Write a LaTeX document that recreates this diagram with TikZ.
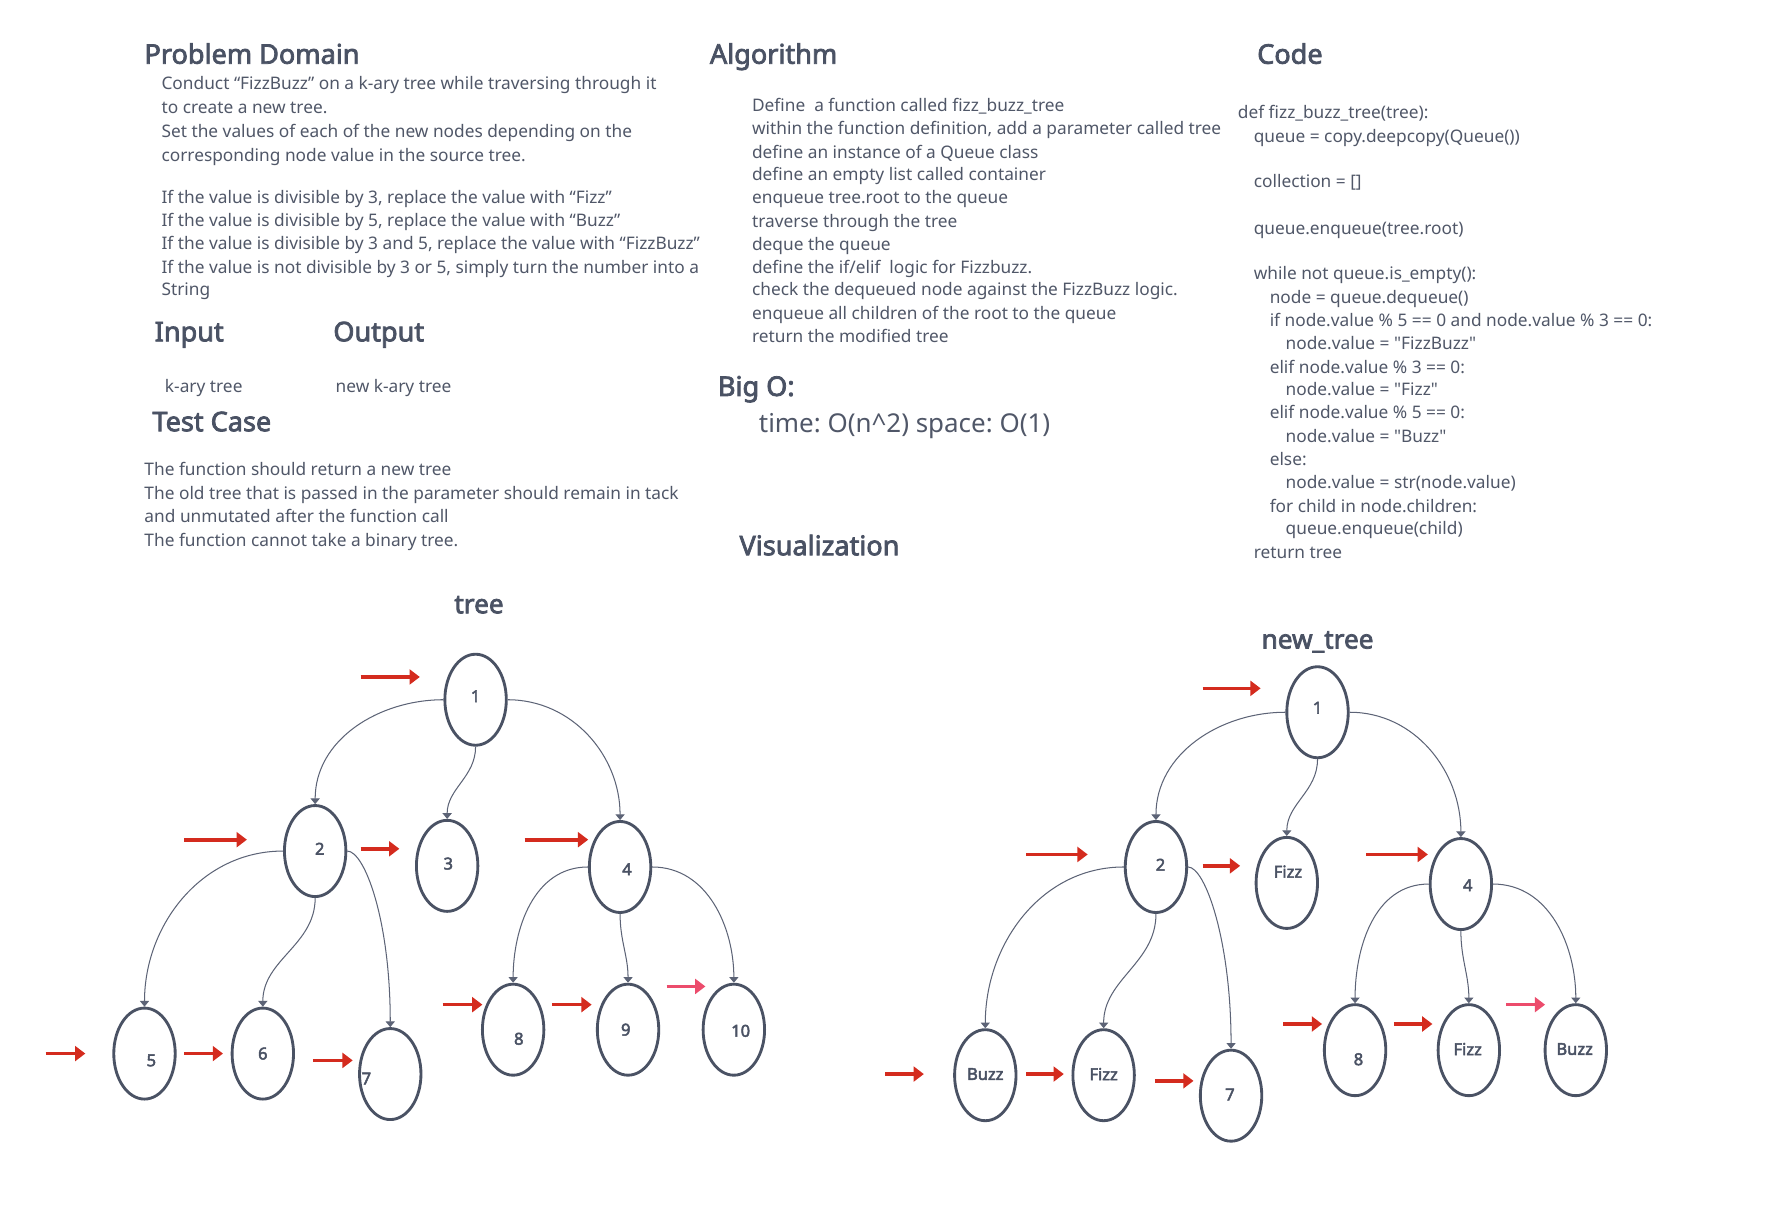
\documentclass[tikz,border=0pt]{standalone}
\usepackage{fontspec}
\setmainfont{Noto Sans}[AutoFakeBold=2.8]
\usetikzlibrary{shapes.geometric,arrows.meta}
\definecolor{ink}{RGB}{74,82,100}
\definecolor{body}{RGB}{80,87,104}
\definecolor{edgec}{RGB}{92,99,118}
\definecolor{redA}{RGB}{212,43,30}
\definecolor{pinkA}{RGB}{236,76,108}
\begin{document}
\frenchspacing
\begin{tikzpicture}[x=1pt,y=-1pt,
  txt/.style={anchor=base west, inner sep=0pt, outer sep=0pt, text=body, font=\fontsize{15.2}{18}\selectfont},
  hd/.style={anchor=base west, inner sep=0pt, outer sep=0pt, text=ink, font=\fontsize{23.8}{26}\selectfont\bfseries},
  big/.style={anchor=base west, inner sep=0pt, outer sep=0pt, text=body, font=\fontsize{22.8}{26}\selectfont},
  nd/.style={ellipse, draw=ink, line width=2.5pt, minimum width=54pt, minimum height=80pt, inner sep=0pt},
  lab/.style={text=ink, font=\fontsize{14.5}{16}\selectfont\bfseries, inner sep=0pt},
  edg/.style={draw=edgec, line width=0.9pt, -{Triangle[length=5pt,width=8pt]}},
  ra/.style={draw=redA, line width=3.2pt, -{Triangle[length=9pt,width=13pt]}},
  pa/.style={ra, draw=pinkA}]
\useasboundingbox[fill=white] (0,0) rectangle (1568,1072);

% ---------- Problem domain ----------
\node[hd] (hpd) at (127,56) {Problem Domain};
\node[txt] (p1) at (142,79) {Conduct “FizzBuzz” on a k-ary tree while traversing through it};
\node[txt] (p2) at (142,100) {to create a new tree.};
\node[txt] (p3) at (142,121) {Set the values of each of the new nodes depending on the};
\node[txt] (p4) at (142,142) {corresponding node value in the source tree.};
\node[txt] (p5) at (142,179) {If the value is divisible by 3, replace the value with “Fizz”};
\node[txt] (p6) at (142,199) {If the value is divisible by 5, replace the value with “Buzz”};
\node[txt] (p7) at (142,219) {If the value is divisible by 3 and 5, replace the value with “FizzBuzz”};
\node[txt] (p8) at (142,240) {If the value is not divisible by 3 or 5, simply turn the number into a};
\node[txt] (p9) at (142,260) {String};

\node[hd] (hin) at (136,300) {Input};
\node[hd] (hout) at (293,300) {Output};
\node[txt] (tin) at (145,345) {k-ary tree};
\node[txt] (tout) at (295,345) {new k-ary tree};

\node[hd] (htc) at (134,379) {Test Case};
\node[txt] (t1) at (127,418) {The function should return a new tree};
\node[txt] (t2) at (127,439) {The old tree that is passed in the parameter should remain in tack};
\node[txt] (t3) at (127,459) {and unmutated after the function call};
\node[txt] (t4) at (127,480) {The function cannot take a binary tree.};

% ---------- Algorithm ----------
\node[hd] (halg) at (624,56) {Algorithm};
\node[txt] (g1) at (661,98) {Define\ \ a function called fizz\_buzz\_tree};
\node[txt] (g2) at (661,118) {within the function definition, add a parameter called tree};
\node[txt] (g3) at (661,139) {define an instance of a Queue class};
\node[txt] (g4) at (661,159) {define an empty list called container};
\node[txt] (g5) at (661,179) {enqueue tree.root to the queue};
\node[txt] (g6) at (661,200) {traverse through the tree};
\node[txt] (g7) at (661,220) {deque the queue};
\node[txt] (g8) at (661,240) {define the if/elif\ \ logic for Fizzbuzz.};
\node[txt] (g9) at (661,260) {check the dequeued node against the FizzBuzz logic.};
\node[txt] (g10) at (661,281) {enqueue all children of the root to the queue};
\node[txt] (g11) at (661,301) {return the modified tree};

\node[hd] (hbig) at (631,348) {Big O:};
\node[big] (bo) at (667,380) {time: O(n\textasciicircum 2) space: O(1)};

\node[hd] (hvis) at (650,488) {Visualization};

% ---------- Code ----------
\node[hd] (hcode) at (1105,56) {Code};
\node[txt] (c1) at (1088,104) {def fizz\_buzz\_tree(tree):};
\node[txt] (c2) at (1102,125) {queue = copy.deepcopy(Queue())};
\node[txt] (c3) at (1102,165) {collection = []};
\node[txt] (c4) at (1102,206) {queue.enqueue(tree.root)};
\node[txt] (c5) at (1102,246) {while not queue.is\_empty():};
\node[txt] (c6) at (1116,267) {node = queue.dequeue()};
\node[txt] (c7) at (1116,287) {if node.value \% 5 == 0 and node.value \% 3 == 0:};
\node[txt] (c8) at (1130,307) {node.value = \textquotedbl FizzBuzz\textquotedbl};
\node[txt] (c9) at (1116,328) {elif node.value \% 3 == 0:};
\node[txt] (c10) at (1130,348) {node.value = \textquotedbl Fizz\textquotedbl};
\node[txt] (c11) at (1116,368) {elif node.value \% 5 == 0:};
\node[txt] (c12) at (1130,389) {node.value = \textquotedbl Buzz\textquotedbl};
\node[txt] (c13) at (1116,409) {else:};
\node[txt] (c14) at (1130,429) {node.value = str(node.value)};
\node[txt] (c15) at (1116,450) {for child in node.children:};
\node[txt] (c16) at (1130,470) {queue.enqueue(child)};
\node[txt] (c17) at (1102,491) {return tree};

% ---------- tree ----------
\node[hd, anchor=base, font=\fontsize{23}{26}\selectfont\bfseries] (ttl1) at (421,539) {tree};
\node[nd] (n1) at (418,615) {};
\node[nd] (n2) at (277,748) {};
\node[nd] (n3) at (393,761) {};
\node[nd] (n4) at (545,762) {};
\node[nd] (n5) at (127,926) {};
\node[nd] (n6) at (231,926) {};
\node[nd] (n7) at (343,944) {};
\node[nd] (n8) at (451,905) {};
\node[nd] (n9) at (552,905) {};
\node[nd] (n10) at (645,905) {};
\node[lab] (l1) at (418,612) {1};
\node[lab] (l2) at (281,746) {2};
\node[lab] (l3) at (394,759) {3};
\node[lab] (l4) at (551,764) {4};
\node[lab] (l5) at (133,932) {5};
\node[lab] (l6) at (231,926) {6};
\node[lab] (l7) at (322,948) {7};
\node[lab] (l8) at (456,913) {8};
\node[lab] (l9) at (550,905) {9};
\node[lab] (l10) at (651,906) {10};

\draw[edg] (n1.west) to[out=180,in=90] (n2.north);
\draw[edg] (n1.south) to[out=-90,in=90] (n3.north);
\draw[edg] (n1.east) to[out=0,in=90] (n4.north);
\draw[edg] (n2.west) to[out=180,in=90] (n5.north);
\draw[edg] (n2.south) to[out=-90,in=90] (n6.north);
\draw[edg] (n2.east) to[out=0,in=90,out distance=15pt,in distance=95pt] (n7.north);
\draw[edg] (n4.west) to[out=180,in=90] (n8.north);
\draw[edg] (n4.south) to[out=-90,in=90] (n9.north);
\draw[edg] (n4.east) to[out=0,in=90] (n10.north);

\draw[ra] (317,595) -- (369,595);
\draw[ra] (162,738) -- (217,738);
\draw[ra] (317,746) -- (351,746);
\draw[ra] (461,738) -- (517,738);
\draw[ra] (40,926) -- (75,926);
\draw[ra] (162,926) -- (196,926);
\draw[ra] (275,932) -- (310,932);
\draw[ra] (389,883) -- (424,883);
\draw[ra] (485,883) -- (520,883);
\draw[pa] (586,867) -- (620,867);

% ---------- new_tree ----------
\node[hd, anchor=base, font=\fontsize{23}{26}\selectfont\bfseries] (ttl2) at (1158,570) {new\_tree};
\node[nd] (m1) at (1158,626) {};
\node[nd] (m2) at (1016,762) {};
\node[nd] (m3) at (1131,776) {};
\node[nd] (m4) at (1284,777) {};
\node[nd] (m5) at (866,945) {};
\node[nd] (m6) at (970,945) {};
\node[nd] (m7) at (1082,963) {};
\node[nd] (m8) at (1191,923) {};
\node[nd] (m9) at (1291,923) {};
\node[nd] (m10) at (1385,923) {};
\node[lab] (k1) at (1158,622) {1};
\node[lab] (k2) at (1020,760) {2};
\node[lab] (k3) at (1132,766) {Fizz};
\node[lab] (k4) at (1290,778) {4};
\node[lab] (k5) at (866,944) {Buzz};
\node[lab] (k6) at (970,944) {Fizz};
\node[lab] (k7) at (1081,962) {7};
\node[lab] (k8) at (1194,931) {8};
\node[lab] (k9) at (1290,922) {Fizz};
\node[lab] (k10) at (1384,922) {Buzz};

\draw[edg] (m1.west) to[out=180,in=90] (m2.north);
\draw[edg] (m1.south) to[out=-90,in=90] (m3.north);
\draw[edg] (m1.east) to[out=0,in=90] (m4.north);
\draw[edg] (m2.west) to[out=180,in=90] (m5.north);
\draw[edg] (m2.south) to[out=-90,in=90] (m6.north);
\draw[edg] (m2.east) to[out=0,in=90,out distance=15pt,in distance=95pt] (m7.north);
\draw[edg] (m4.west) to[out=180,in=90] (m8.north);
\draw[edg] (m4.south) to[out=-90,in=90] (m9.north);
\draw[edg] (m4.east) to[out=0,in=90] (m10.north);

\draw[ra] (1057,605) -- (1108,605);
\draw[ra] (902,751) -- (956,751);
\draw[ra] (1057,761) -- (1090,761);
\draw[ra] (1201,751) -- (1255,751);
\draw[ra] (778,944) -- (812,944);
\draw[ra] (902,944) -- (935,944);
\draw[ra] (1015,950) -- (1049,950);
\draw[ra] (1128,900) -- (1162,900);
\draw[ra] (1225,900) -- (1259,900);
\draw[pa] (1324,883) -- (1358,883);
\end{tikzpicture}
\end{document}
